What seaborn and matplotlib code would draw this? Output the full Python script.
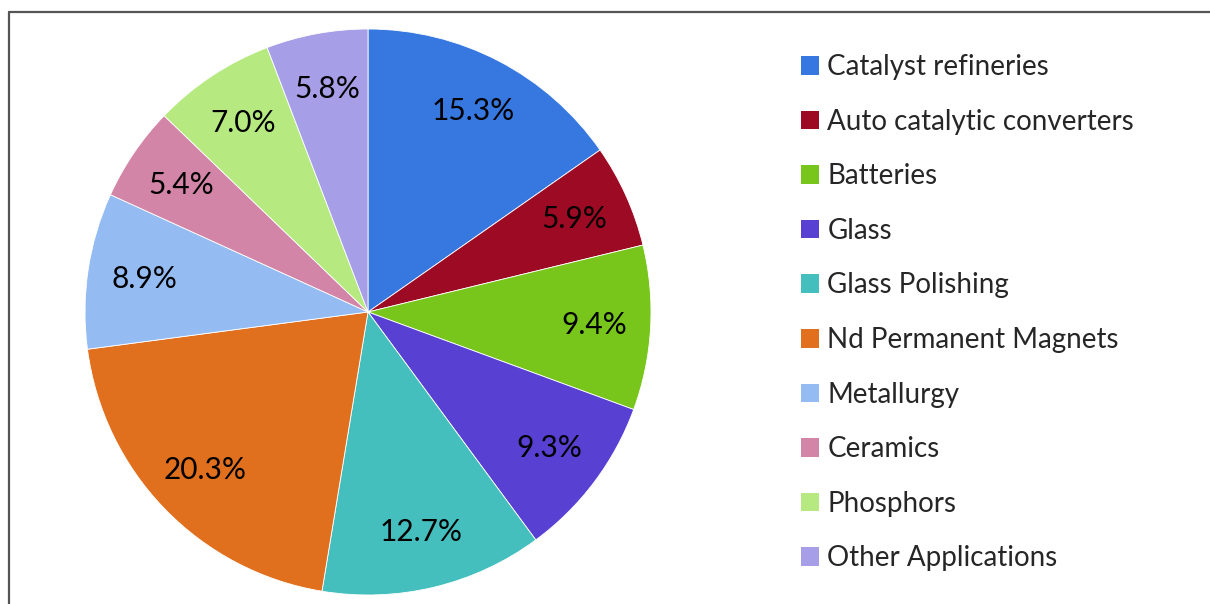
import matplotlib
matplotlib.use("Agg")
import matplotlib.pyplot as plt
import matplotlib.patches as mpatches
from matplotlib.lines import Line2D
import seaborn as sns

categories = ["Catalyst refineries", "Auto catalytic converters", "Batteries", "Glass",
              "Glass Polishing", "Nd Permanent Magnets", "Metallurgy", "Ceramics",
              "Phosphors", "Other Applications"]
shares = [15.3, 5.9, 9.4, 9.3, 12.7, 20.3, 8.9, 5.4, 7.0, 5.8]
colors = ["#3778E0", "#9C0A23", "#78C61B", "#5740D2", "#44BFBE",
          "#E0701E", "#94BBF2", "#D285A7", "#B6EA80", "#A69EE6"]

sns.set_theme(style="white")
plt.rcParams["font.family"] = ["Lato", "DejaVu Sans"]

fig = plt.figure(figsize=(12.1, 6.04), dpi=100)
ax = fig.add_axes([85 / 1210, 9 / 604, 566 / 1210, 566 / 604])

wedges, texts, autotexts = ax.pie(
    shares, colors=colors, startangle=90, counterclock=False,
    autopct="%.1f%%", pctdistance=0.8, radius=1,
    wedgeprops=dict(linewidth=0.6, edgecolor="white"),
    textprops=dict(fontsize=21.5, color="black"))
ax.set_xlim(-1, 1)
ax.set_ylim(-1, 1)
ax.set_aspect("equal")
ax.axis("off")

handles = [mpatches.Patch(facecolor=c, edgecolor="none") for c in colors]
fig.legend(handles, categories, loc="upper left",
           bbox_to_anchor=(801 / 1210, 1 - 54 / 604), frameon=False,
           fontsize=20, handlelength=0.65, handleheight=0.65,
           handletextpad=0.3, labelspacing=1.03, borderaxespad=0, borderpad=0)

# frame around the chart (top and left edges visible)
fig.add_artist(Line2D([9 / 1210, 1.0], [1 - 12 / 604, 1 - 12 / 604],
                      transform=fig.transFigure, color="#555555", linewidth=1.6))
fig.add_artist(Line2D([9 / 1210, 9 / 1210], [0.0, 1 - 12 / 604],
                      transform=fig.transFigure, color="#555555", linewidth=1.6))

fig.savefig("out.png", dpi=100, facecolor="white")
